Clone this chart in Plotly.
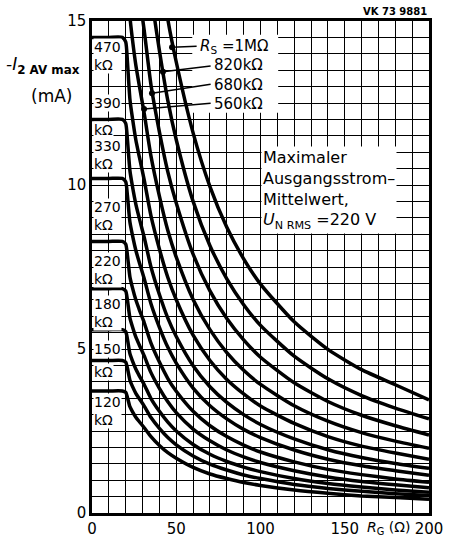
import plotly.graph_objects as go

# ---------------- data ----------------
RG = [0, 10, 18, 20, 21, 22.5, 24, 26, 28, 31, 35, 40, 45, 50, 60, 70, 80, 90, 100, 120, 140, 160, 180, 200]

I_120k = [3.72, 3.72, 3.72, 3.68, 3.53, 3.24, 3.09, 2.92, 2.79, 2.60, 2.33, 2.06, 1.84, 1.67, 1.39, 1.19, 1.05, 0.93, 0.84, 0.70, 0.60, 0.52, 0.47, 0.42]
I_150k = [4.65, 4.65, 4.65, 4.60, 4.42, 4.05, 3.86, 3.65, 3.49, 3.26, 2.91, 2.58, 2.30, 2.08, 1.74, 1.49, 1.31, 1.16, 1.05, 0.87, 0.75, 0.66, 0.59, 0.53]
I_180k = [5.59, 5.59, 5.59, 5.53, 5.31, 4.86, 4.64, 4.39, 4.19, 3.91, 3.49, 3.10, 2.77, 2.50, 2.09, 1.79, 1.57, 1.40, 1.26, 1.05, 0.90, 0.79, 0.70, 0.63]
I_220k = [6.84, 6.84, 6.84, 6.77, 6.50, 5.95, 5.68, 5.37, 5.13, 4.79, 4.28, 3.80, 3.39, 3.06, 2.56, 2.20, 1.92, 1.71, 1.54, 1.29, 1.10, 0.96, 0.86, 0.77]
I_270k = [8.28, 8.28, 8.28, 8.20, 7.87, 7.20, 6.87, 6.50, 6.21, 5.80, 5.18, 4.60, 4.10, 3.71, 3.10, 2.66, 2.33, 2.07, 1.86, 1.56, 1.33, 1.17, 1.04, 0.94]
I_330k = [10.2, 10.2, 10.2, 10.10, 9.69, 8.87, 8.47, 8.01, 7.65, 7.14, 6.38, 5.66, 5.05, 4.57, 3.81, 3.27, 2.87, 2.55, 2.30, 1.92, 1.64, 1.44, 1.29, 1.15]
I_390k = [12.0, 12.0, 12.0, 11.88, 11.40, 10.44, 9.96, 9.42, 9.00, 8.40, 7.50, 6.66, 5.94, 5.38, 4.49, 3.85, 3.37, 3.00, 2.70, 2.26, 1.93, 1.69, 1.51, 1.36]
I_470k = [14.5, 14.5, 14.5, 14.36, 13.78, 12.62, 12.04, 11.38, 10.88, 10.15, 9.06, 8.05, 7.18, 6.50, 5.42, 4.65, 4.07, 3.63, 3.26, 2.73, 2.33, 2.04, 1.83, 1.64]
I_560k = [17.4, 17.4, 17.4, 17.23, 16.53, 15.14, 14.44, 13.66, 13.05, 12.18, 10.88, 9.66, 8.61, 7.80, 6.51, 5.59, 4.89, 4.35, 3.92, 3.27, 2.80, 2.45, 2.19, 1.97]
I_680k = [21.1, 21.1, 21.1, 20.89, 20.05, 18.36, 17.51, 16.56, 15.83, 14.70, 13.05, 11.62, 10.40, 9.45, 7.89, 6.77, 5.93, 5.28, 4.75, 3.97, 3.40, 2.98, 2.66, 2.38]
I_820k = [25.4, 25.4, 25.4, 25.15, 24.13, 22.10, 21.08, 19.94, 19.05, 17.78, 15.88, 14.10, 12.57, 11.38, 9.50, 8.15, 7.14, 6.35, 5.72, 4.78, 4.09, 3.58, 3.20, 2.87]
I_1M = [31.0, 31.0, 31.0, 30.69, 29.45, 26.97, 25.73, 24.34, 23.25, 21.70, 19.20, 16.90, 15.05, 13.75, 11.59, 9.95, 8.71, 7.75, 6.98, 5.83, 4.99, 4.37, 3.91, 3.45]

CURVES = [I_120k, I_150k, I_180k, I_220k, I_270k, I_330k, I_390k, I_470k,
          I_560k, I_680k, I_820k, I_1M]

# left-hand labels (text, y position in mA)
LEFT_LABELS = ["470<br>kΩ", "390", "kΩ", "330<br>kΩ", "270<br>kΩ",
               "220<br>kΩ", "180<br>kΩ", "150", "kΩ", "120<br>kΩ"]
LEFT_LABEL_Y = [13.93, 12.50, 11.69, 10.92, 9.05,
                7.42, 6.11, 4.99, 4.29, 3.12]

# R_S labels: marker dots on the curves and where the leader lines end
RS_TITLE = "<i>R</i><sub>S</sub> =1MΩ"
RS_LIST = "820kΩ<br>680kΩ<br>560kΩ"
RS_DOT_X = [47.5, 42.1, 35.6, 30.9]
RS_DOT_Y = [14.20, 13.45, 12.80, 12.32]
RS_TXT_X = [62.9, 71.2, 71.2, 71.2]
RS_TXT_Y = [14.23, 13.63, 13.07, 12.49]

X_TICKS = [0, 50, 100, 150, 200]
Y_TICKS = [0, 5, 10, 15]

FONT = "DejaVu Sans"

fig = go.Figure()

for ys in CURVES:
    fig.add_trace(go.Scatter(x=RG, y=ys, mode="lines",
                             line=dict(color="black", width=3.5, shape="spline", smoothing=0.6),
                             hoverinfo="skip", showlegend=False))

# leader lines and dots
for dx, dy, tx, ty in zip(RS_DOT_X, RS_DOT_Y, RS_TXT_X, RS_TXT_Y):
    fig.add_trace(go.Scatter(x=[dx, tx - 0.8], y=[dy, ty], mode="lines",
                             line=dict(color="black", width=1.5),
                             hoverinfo="skip", showlegend=False))
fig.add_trace(go.Scatter(x=RS_DOT_X, y=RS_DOT_Y, mode="markers",
                         marker=dict(color="black", size=6),
                         hoverinfo="skip", showlegend=False))

# white box behind R_S labels (above grid, below curves)
fig.add_shape(type="rect", xref="x", yref="y", x0=59.5, x1=110.5, y0=12.2, y1=14.58,
              fillcolor="white", line=dict(width=0), layer="between")

for t, yy in zip(LEFT_LABELS, LEFT_LABEL_Y):
    fig.add_annotation(x=0.6, y=yy, xref="x", yref="y", text=t, showarrow=False,
                       xanchor="left", yanchor="middle", align="left",
                       bgcolor="white", borderpad=0,
                       font=dict(family=FONT, size=14, color="black"))

fig.add_annotation(x=RS_TXT_X[0], y=RS_TXT_Y[0], xref="x", yref="y", text=RS_TITLE,
                   showarrow=False, xanchor="left", yanchor="middle",
                   font=dict(family=FONT, size=15, color="black"))
fig.add_annotation(x=RS_TXT_X[2], y=RS_TXT_Y[2], xref="x", yref="y", text=RS_LIST,
                   showarrow=False, xanchor="left", yanchor="middle", align="left",
                   font=dict(family=FONT, size=15, color="black"))

fig.add_annotation(x=100.5, y=11.2, xref="x", yref="y",
                   text="Maximaler<br>Ausgangsstrom–<br>Mittelwert,<br><i>U</i><sub>N RMS</sub> =220 V",
                   showarrow=False, xanchor="left", yanchor="top", align="left",
                   bgcolor="white", borderpad=1,
                   font=dict(family=FONT, size=16, color="black"))

# texts positioned in pixels relative to paper
W, H = 457, 550
L, R, T, B = 92, 28, 18, 29
def px(x):
    return (x - L) / (W - L - R)
def py(y):
    return (H - B - y) / (H - T - B)

extra = [
    dict(x=px(43), y=py(64), text="<i>-I</i><sub><b>2 AV max</b></sub>", size=17),
    dict(x=px(51), y=py(95), text="(mA)", size=17),
    dict(x=px(395), y=py(8), text="<b>VK 73 9881</b>", size=10),
    dict(x=px(388), y=py(536), text="<i>R</i><sub>G</sub> (Ω)", size=14),
]
for e in extra:
    fig.add_annotation(x=e["x"], y=e["y"], xref="paper", yref="paper", text=e["text"],
                       showarrow=False, xanchor="center", yanchor="middle",
                       font=dict(family=FONT, size=e["size"], color="black"))

grid = dict(showgrid=True, gridcolor="black", gridwidth=1.3)
fig.update_xaxes(range=[0, 200], tickvals=X_TICKS, **grid,
                 minor=dict(dtick=10, tick0=0, showgrid=True, gridcolor="black", gridwidth=1.3, ticks=""),
                 showline=True, linecolor="black", linewidth=2.5, mirror=True,
                 zeroline=False, ticks="", tickfont=dict(family=FONT, size=15, color="black"))
fig.update_yaxes(range=[0, 15], tickvals=Y_TICKS, **grid,
                 minor=dict(dtick=0.5, tick0=0, showgrid=True, gridcolor="black", gridwidth=1.3, ticks=""),
                 showline=True, linecolor="black", linewidth=2.5, mirror=True,
                 zeroline=False, ticks="", tickfont=dict(family=FONT, size=15, color="black"))

fig.update_layout(width=W, height=H, margin=dict(l=L, r=R, t=T, b=B, pad=0),
                  paper_bgcolor="white", plot_bgcolor="white", showlegend=False)

fig.write_html("out.html")
